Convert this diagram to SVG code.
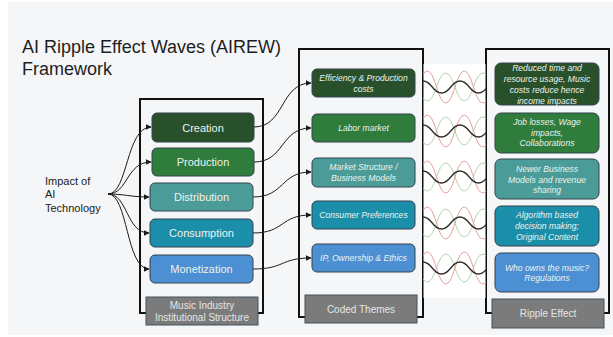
<svg xmlns="http://www.w3.org/2000/svg" xmlns:xlink="http://www.w3.org/1999/xlink" width="613" height="337" viewBox="0 0 613 337">
  <style>
    text { font-family: "Liberation Sans", Arial, sans-serif; }
    .title { font-size: 18px; fill: #1e1e1e; }
    .frame { fill: none; stroke: #111; stroke-width: 2; }
    .node { stroke: #33434d; stroke-width: 1; }
    .lbl { font-size: 11px; fill: #eef2ee; text-anchor: middle; }
    .it { font-size: 8.6px; font-style: italic; fill: #eef2ee; text-anchor: middle; }
    .cap { fill: #7b7b7b; stroke: #44525c; stroke-width: 1; }
    .capt { font-size: 10px; fill: #e6e6e6; text-anchor: middle; }
    .side { font-size: 11px; fill: #222; }
    .conn { fill: none; stroke: #1a1a1a; stroke-width: 1; marker-end: url(#ah); }
    .wr { fill: none; stroke: #e8a0a0; stroke-width: 1; }
    .wg { fill: none; stroke: #b2d4b0; stroke-width: 1; }
    .wk { fill: none; stroke: #2e2e2e; stroke-width: 1.3; }
    .c1 { fill: #27502b; }
    .c2 { fill: #2f7c3c; }
    .c3 { fill: #4b9c98; }
    .c4 { fill: #1b8eaa; }
    .c5 { fill: #4c8fd2; }
  </style>
  <defs>
    <marker id="ah" viewBox="0 0 10 10" refX="9" refY="5" markerWidth="6" markerHeight="6" orient="auto" markerUnits="userSpaceOnUse">
      <path d="M0,0 L10,5 L0,10 z" fill="#1a1a1a"/>
    </marker>
    <clipPath id="band" clipPathUnits="userSpaceOnUse">
      <rect x="423" y="0" width="63" height="337"/>
    </clipPath>
    <!-- three overlaid sine waves, origin at the red wave's rising zero crossing -->
    <g id="ripple">
      <path class="wg" d="M0,0 q9.25,28 18.5,0 t18.5,0 t18.5,0 t18.5,0"/>
      <path class="wr" d="M0,0 q9.25,-32 18.5,0 t18.5,0 t18.5,0 t18.5,0"/>
      <path class="wk" d="M-4.25,0 q9.25,-12 18.5,0 t18.5,0 t18.5,0 t18.5,0 t18.5,0"/>
    </g>
  </defs>

  <!-- page -->
  <rect x="0" y="0" width="613" height="337" fill="#ffffff"/>
  <rect x="8" y="2" width="605" height="333" fill="#f5f6f8"/>

  <text class="title" x="22" y="53">AI Ripple Effect Waves (AIREW)</text>
  <text class="title" x="22" y="75">Framework</text>

  <g id="impact">
    <text class="side" x="45" y="184.5">Impact of</text>
    <text class="side" x="45" y="198">AI</text>
    <text class="side" x="45" y="211.5">Technology</text>
  </g>

  <!-- column frames -->
  <g id="frame-structure"><rect class="frame" x="140" y="99" width="123" height="214"/></g>
  <g id="frame-themes"><rect class="frame" x="299" y="49" width="124" height="268"/></g>
  <g id="frame-ripple"><rect class="frame" x="486" y="49" width="123" height="264"/></g>

  <!-- wave band between themes and ripple effects -->
  <g id="waves">
    <rect x="423.5" y="64" width="62" height="234" fill="#ffffff"/>
    <g clip-path="url(#band)">
      <use xlink:href="#ripple" transform="translate(418,87)"/>
      <use xlink:href="#ripple" transform="translate(418,131)"/>
      <use xlink:href="#ripple" transform="translate(418,177)"/>
      <use xlink:href="#ripple" transform="translate(418,223)"/>
      <use xlink:href="#ripple" transform="translate(418,268)"/>
    </g>
  </g>

  <!-- connectors -->
  <g id="connectors">
    <path class="conn" d="M108,194 C128,194 126,127 151,127"/>
    <path class="conn" d="M108,194 C128,194 126,162 151,162"/>
    <path class="conn" d="M108,194 C125,194 130,197 149,197"/>
    <path class="conn" d="M108,194 C128,194 126,233 149,233"/>
    <path class="conn" d="M108,194 C128,194 126,269 149,269"/>
    <path class="conn" d="M254,127 C285,127 280,83 311,83"/>
    <path class="conn" d="M254,162 C285,162 280,128 311,128"/>
    <path class="conn" d="M253,197 C285,197 280,172 311,172"/>
    <path class="conn" d="M253,233 C285,233 280,215 311,215"/>
    <path class="conn" d="M253,269 C285,269 280,258 311,258"/>
  </g>

  <!-- music industry institutional structure -->
  <g id="creation"><rect class="node c1" x="152" y="113" width="102" height="29" rx="5"/><text class="lbl" x="203" y="131.5">Creation</text></g>
  <g id="production"><rect class="node c2" x="152" y="148" width="102" height="28" rx="5"/><text class="lbl" x="203" y="166">Production</text></g>
  <g id="distribution"><rect class="node c3" x="150" y="183" width="103" height="28" rx="5"/><text class="lbl" x="201.5" y="201">Distribution</text></g>
  <g id="consumption"><rect class="node c4" x="150" y="219" width="103" height="28" rx="5"/><text class="lbl" x="201.5" y="237">Consumption</text></g>
  <g id="monetization"><rect class="node c5" x="150" y="255" width="103" height="28" rx="5"/><text class="lbl" x="201.5" y="273">Monetization</text></g>
  <g id="structure-label"><rect class="cap" x="146" y="297" width="112" height="28"/><text class="capt" x="202" y="308.5">Music Industry</text><text class="capt" x="202" y="320.5">Institutional Structure</text></g>

  <!-- coded themes -->
  <g id="efficiency"><rect class="node c1" x="312" y="69" width="103" height="28" rx="5"/><text class="it" x="363.5" y="81">Efficiency &amp; Production</text><text class="it" x="363.5" y="92">costs</text></g>
  <g id="labor"><rect class="node c2" x="312" y="114" width="103" height="28" rx="5"/><text class="it" x="363.5" y="131.3">Labor market</text></g>
  <g id="market"><rect class="node c3" x="312" y="158" width="103" height="29" rx="5"/><text class="it" x="363.5" y="170.3">Market Structure /</text><text class="it" x="363.5" y="180.7">Business Models</text></g>
  <g id="preferences"><rect class="node c4" x="312" y="201" width="103" height="28" rx="5"/><text class="it" x="363.5" y="218">Consumer Preferences</text></g>
  <g id="ip"><rect class="node c5" x="312" y="244" width="103" height="28" rx="5"/><text class="it" x="363.5" y="261.3">IP, Ownership &amp; Ethics</text></g>
  <g id="themes-label"><rect class="cap" x="305" y="295" width="112" height="28"/><text class="capt" x="361" y="312.5">Coded Themes</text></g>

  <!-- ripple effects -->
  <g id="effect-cost"><rect class="node c1" x="495" y="63" width="104" height="42" rx="6"/>
    <text class="it" x="547" y="71.3">Reduced time and</text><text class="it" x="547" y="82">resource usage, Music</text><text class="it" x="547" y="93">costs reduce hence</text><text class="it" x="547" y="103.7">income impacts</text></g>
  <g id="effect-labor"><rect class="node c2" x="495" y="113" width="104" height="40" rx="6"/>
    <text class="it" x="547" y="124.7">Job losses, Wage</text><text class="it" x="547" y="135.7">impacts,</text><text class="it" x="547" y="146.3">Collaborations</text></g>
  <g id="effect-market"><rect class="node c3" x="495" y="159" width="104" height="40" rx="6"/>
    <text class="it" x="547" y="172">Newer Business</text><text class="it" x="547" y="182.7">Models and revenue</text><text class="it" x="547" y="193.3">sharing</text></g>
  <g id="effect-consumer"><rect class="node c4" x="495" y="206" width="104" height="40" rx="6"/>
    <text class="it" x="547" y="218">Algorithm based</text><text class="it" x="547" y="229">decision making;</text><text class="it" x="547" y="239.7">Original Content</text></g>
  <g id="effect-ip"><rect class="node c5" x="495" y="253" width="104" height="39" rx="6"/>
    <text class="it" x="547" y="270.7">Who owns the music?</text><text class="it" x="547" y="281.3">Regulations</text></g>
  <g id="ripple-label"><rect class="cap" x="492" y="299" width="112" height="29"/><text class="capt" x="548" y="317">Ripple Effect</text></g>
</svg>
